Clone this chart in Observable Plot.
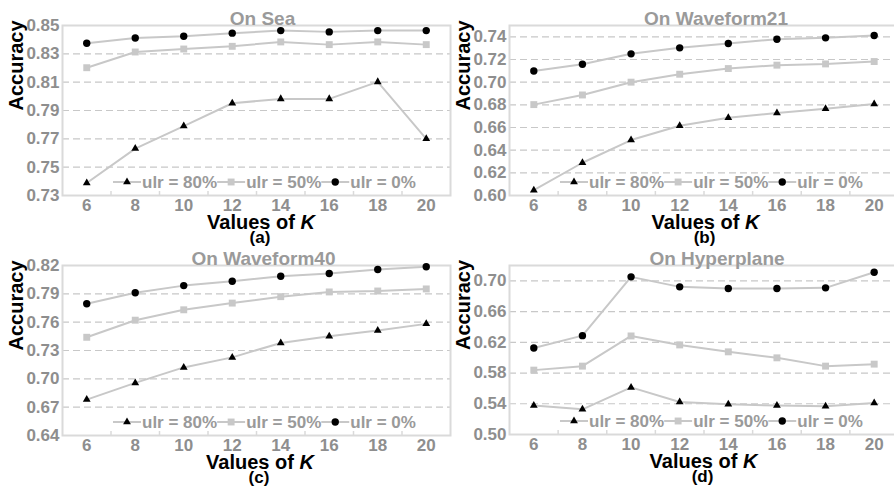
<!DOCTYPE html>
<html>
<head>
<meta charset="utf-8">
<script src="https://cdn.jsdelivr.net/npm/d3@7"></script>
<script src="https://cdn.jsdelivr.net/npm/@observablehq/plot@0.6"></script>
<style>
  html, body { margin: 0; padding: 0; background: #fff; overflow: hidden; }
  #fig { position: relative; width: 894px; height: 487px; overflow: hidden; background: #fff; }
  #fig svg { position: absolute; }
</style>
</head>
<body>
<div id="fig"></div>
<script>
// ---------------- data ----------------
const K = [6, 8, 10, 12, 14, 16, 18, 20];
const seriesNames = ["ulr = 80%", "ulr = 50%", "ulr = 0%"];

const seaU80 = [0.7388, 0.7631, 0.7790, 0.7951, 0.7982, 0.7982, 0.8102, 0.7700];
const seaU50 = [0.8202, 0.8313, 0.8334, 0.8353, 0.8384, 0.8365, 0.8384, 0.8365];
const seaU0  = [0.8375, 0.8412, 0.8424, 0.8446, 0.8464, 0.8455, 0.8464, 0.8464];

const wf21U80 = [0.6047, 0.6289, 0.6489, 0.6616, 0.6687, 0.6728, 0.6766, 0.6808];
const wf21U50 = [0.6802, 0.6887, 0.7000, 0.7070, 0.7120, 0.7150, 0.7161, 0.7182];
const wf21U0  = [0.7099, 0.7158, 0.7250, 0.7303, 0.7341, 0.7379, 0.7391, 0.7412];

const wf40U80 = [0.6780, 0.6957, 0.7121, 0.7227, 0.7380, 0.7451, 0.7511, 0.7582];
const wf40U50 = [0.7440, 0.7621, 0.7731, 0.7802, 0.7870, 0.7920, 0.7930, 0.7952];
const wf40U0  = [0.7795, 0.7912, 0.7987, 0.8033, 0.8086, 0.8115, 0.8157, 0.8186];

const hypU80 = [0.5376, 0.5328, 0.5613, 0.5423, 0.5393, 0.5376, 0.5367, 0.5410];
const hypU50 = [0.5838, 0.5890, 0.6283, 0.6166, 0.6076, 0.5998, 0.5890, 0.5916];
const hypU0  = [0.6127, 0.6287, 0.7052, 0.6922, 0.6901, 0.6901, 0.6909, 0.7112];

const xTickLabels = [6, 8, 10, 12, 14, 16, 18, 20];
const xMinorTicks = [7, 9, 11, 13, 15, 17, 19];
const xDomain = [5, 21];

const seaTicks  = [0.73, 0.75, 0.77, 0.79, 0.81, 0.83, 0.85];
const wf21Ticks = [0.60, 0.62, 0.64, 0.66, 0.68, 0.70, 0.72, 0.74];
const wf40Ticks = [0.64, 0.67, 0.70, 0.73, 0.76, 0.79, 0.82];
const hypTicks  = [0.50, 0.54, 0.58, 0.62, 0.66, 0.70];

const seaDomain  = [0.73, 0.85];
const wf21Domain = [0.60, 0.75];
const wf40Domain = [0.64, 0.82];
const hypDomain  = [0.50, 0.72];

const titles = ["On Sea", "On Waveform21", "On Waveform40", "On Hyperplane"];
const subLabels = ["(a)", "(b)", "(c)", "(d)"];

// ---------------- styling ----------------
const FONT = "'Liberation Sans', Arial, sans-serif";
const GRAY_TEXT = "#8e8e8e";
const TITLE_GRAY = "#9a9a9a";
const LINE_GRAY = "#c8c8c8";
const FRAME_GRAY = "#dadada";
const markerStyle = {
  "ulr = 80%": {symbol: "triangle", fill: "#000", r: 2.9},
  "ulr = 50%": {symbol: "square", fill: "#c8c8c8", r: 3.9},
  "ulr = 0%":  {symbol: "circle", fill: "#000", r: 3.7}
};

const panels = [
  {vals: [seaU80, seaU50, seaU0], ticks: seaTicks, domain: seaDomain,
   left: 0, top: 0, width: 455, height: 245, mr: 5, mb: 50, titleDx: 6, labelDx: 5, title: titles[0], sub: subLabels[0]},
  {vals: [wf21U80, wf21U50, wf21U0], ticks: wf21Ticks, domain: wf21Domain,
   left: 447, top: 0, width: 455, height: 245, mr: 4, mb: 50, titleDx: 12, labelDx: 2, title: titles[1], sub: subLabels[1]},
  {vals: [wf40U80, wf40U50, wf40U0], ticks: wf40Ticks, domain: wf40Domain,
   left: 0, top: 240, width: 455, height: 247, mr: 5, mb: 52, titleDx: 7, labelDx: 4, title: titles[2], sub: subLabels[2]},
  {vals: [hypU80, hypU50, hypU0], ticks: hypTicks, domain: hypDomain,
   left: 447, top: 240, width: 455, height: 247, mr: 4, mb: 53, titleDx: 13, labelDx: 0, title: titles[3], sub: subLabels[3]}
];

const fig = document.getElementById("fig");

panels.forEach(p => {
  const rows = [];
  seriesNames.forEach((s, si) => K.forEach((k, i) => rows.push({k, v: p.vals[si][i], s})));
  const [lo, hi] = p.domain;
  const gridTicks = p.ticks.filter(t => t > lo + 1e-9 && t < hi - 1e-9);

  const svg = Plot.plot({
    width: p.width,
    height: p.height,
    marginLeft: 62,
    marginRight: p.mr,
    marginTop: 25,
    marginBottom: p.mb,
    x: {domain: xDomain},
    y: {domain: p.domain},
    style: {fontFamily: FONT, fontWeight: "bold", background: "transparent", overflow: "visible"},
    marks: [
      Plot.gridY(gridTicks, {stroke: LINE_GRAY, strokeOpacity: 1, strokeWidth: 1.2, strokeDasharray: "7,4"}),
      Plot.ruleX(xMinorTicks, {x: d => d, y1: lo, y2: lo, insetTop: -4, stroke: FRAME_GRAY, strokeWidth: 1.5}),
      Plot.frame({stroke: FRAME_GRAY, strokeWidth: 2}),
      Plot.axisY(p.ticks, {tickSize: 0, tickPadding: 3, tickFormat: d3.format(".2f"), fontSize: 17, color: GRAY_TEXT, label: null}),
      Plot.axisX(xTickLabels, {tickSize: 0, tickPadding: 3, fontSize: 17, color: GRAY_TEXT, label: null}),
      Plot.line(rows, {x: "k", y: "v", z: "s", stroke: LINE_GRAY, strokeWidth: 2}),
      ...seriesNames.map(s => Plot.dot(rows.filter(d => d.s === s), {
        x: "k", y: "v", symbol: markerStyle[s].symbol, fill: markerStyle[s].fill, r: markerStyle[s].r, stroke: "none"
      })),
      Plot.text([p.title], {frameAnchor: "top", lineAnchor: "bottom", dy: -1, dx: p.titleDx, fontSize: 19, fill: TITLE_GRAY}),
      Plot.text(["Accuracy"], {frameAnchor: "left", rotate: -90, dx: -46, fontSize: 20, fill: "#000"})
    ]
  });
  svg.style.left = p.left + "px";
  svg.style.top = p.top + "px";
  fig.appendChild(svg);

  const fl = 62, fr = p.width - p.mr, fb = p.height - p.mb;
  const cx = (fl + fr) / 2;
  const root = d3.select(svg);

  // x axis label with italic K
  const xl = root.append("text")
    .attr("x", cx + p.labelDx).attr("y", fb + 34)
    .attr("text-anchor", "middle")
    .attr("font-family", FONT).attr("font-weight", "bold").attr("font-size", 20).attr("fill", "#000");
  xl.append("tspan").text("Values of ");
  xl.append("tspan").attr("font-style", "italic").text("K");

  root.append("text")
    .attr("x", cx + p.labelDx - 1).attr("y", fb + 48)
    .attr("text-anchor", "middle")
    .attr("font-family", FONT).attr("font-weight", "bold").attr("font-size", 17).attr("fill", "#000")
    .text(p.sub);

  // legend inside the plot area
  const lg = root.append("g").attr("transform", `translate(${fl + 51},${fb - 13})`).attr("text-anchor", "start");
  let x = 0;
  seriesNames.forEach(s => {
    const m = markerStyle[s];
    lg.append("line").attr("x1", x).attr("x2", x + 28).attr("y1", 0).attr("y2", 0)
      .attr("stroke", LINE_GRAY).attr("stroke-width", 2);
    const sym = s === "ulr = 80%" ? d3.symbolTriangle : s === "ulr = 50%" ? d3.symbolSquare : d3.symbolCircle;
    lg.append("path").attr("transform", `translate(${x + 14},0)`)
      .attr("d", d3.symbol(sym, m.r * m.r * Math.PI)()).attr("fill", m.fill);
    const t = lg.append("text").attr("x", x + 29).attr("y", 0).attr("dy", "0.35em")
      .attr("text-anchor", "start")
      .attr("font-family", FONT).attr("font-weight", "bold").attr("font-size", 17).attr("fill", TITLE_GRAY)
      .text(s);
    x += 29 + t.node().getComputedTextLength();
  });
});
</script>
</body>
</html>
